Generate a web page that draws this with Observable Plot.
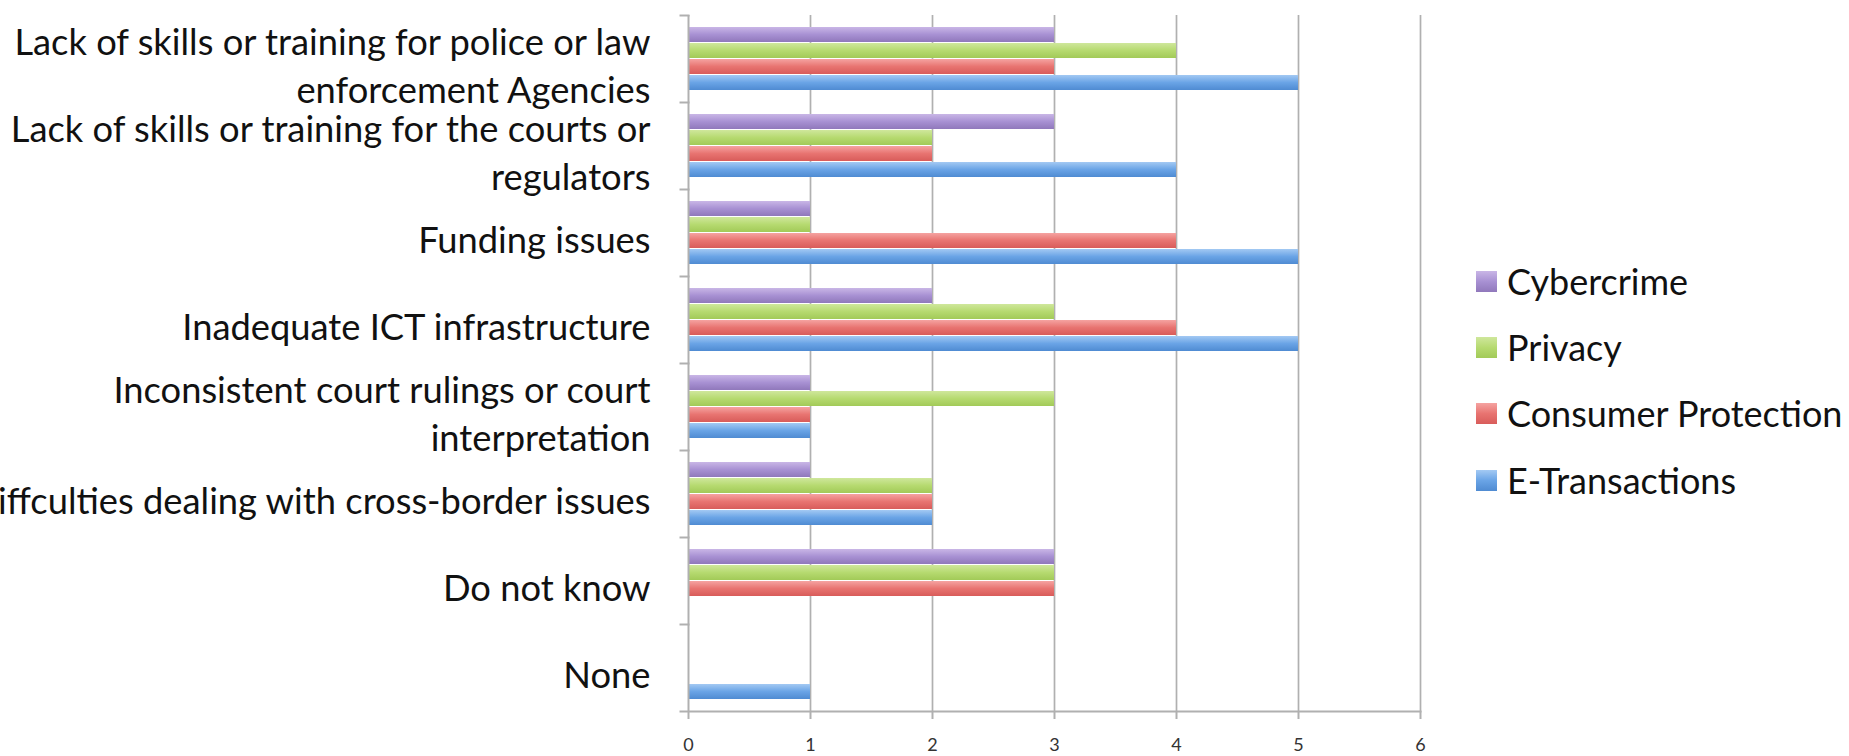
<!DOCTYPE html>
<html><head><meta charset="utf-8">
<script src="https://cdn.jsdelivr.net/npm/d3@7"></script>
<script src="https://cdn.jsdelivr.net/npm/@observablehq/plot@0.6"></script>
<style>
body{margin:0;background:#fff;}
#wrap{position:relative;width:1849px;height:756px;overflow:hidden;font-family:Lato,sans-serif;}
.item{position:absolute;display:flex;align-items:center;white-space:nowrap;font-size:36px;color:#111;height:40px;}
.sw{width:21px;height:21px;margin-right:10px;flex:none;}
</style></head><body><div id="wrap"></div>
<script>
const categories = [
  "Lack of skills or training for police or law enforcement Agencies",
  "Lack of skills or training for the courts or regulators",
  "Funding issues",
  "Inadequate ICT infrastructure",
  "Inconsistent court rulings or court interpretation",
  "Diffculties dealing with cross-border issues",
  "Do not know",
  "None"
];
const categoryLabels = [
  "Lack of skills or training for police or law\nenforcement Agencies",
  "Lack of skills or training for the courts or\nregulators",
  "Funding issues",
  "Inadequate ICT infrastructure",
  "Inconsistent court rulings or court\ninterpretation",
  "Diffculties dealing with cross-border issues",
  "Do not know",
  "None"
];
const series = ["Cybercrime", "Privacy", "Consumer Protection", "E-Transactions"];
const cybercrime = [3, 3, 1, 2, 1, 1, 3, 0];
const privacy    = [4, 2, 1, 3, 3, 2, 3, 0];
const consumer   = [3, 2, 4, 4, 1, 2, 3, 0];
const etrans     = [5, 4, 5, 5, 1, 2, 0, 1];
const xTicks = [0, 1, 2, 3, 4, 5, 6];
const colorTop    = ["#c9b6e6", "#cfe79c", "#f5a3a1", "#a3c9f3"];
const colorMid    = ["#a891d3", "#b6da70", "#e87471", "#6aa4e6"];
const colorBottom = ["#9078bb", "#a2ca58", "#d85c5a", "#4f8bd2"];

const valuesBySeries = [cybercrime, privacy, consumer, etrans];
const rows = [];
series.forEach((s, i) => categories.forEach((c, j) => rows.push({category: c, series: s, value: valuesBySeries[i][j]})));

const W = 1849, H = 756, ML = 688, MR = 429, MT = 14, MB = 45;
const gridColor = "#b0b0b0";

const chart = Plot.plot({
  width: W, height: H,
  marginLeft: ML, marginRight: MR, marginTop: MT, marginBottom: MB,
  style: {fontFamily: "Lato, sans-serif", background: "white", color: "#111"},
  x: {domain: [0, 6]},
  y: {domain: series, axis: null, paddingInner: 0.0625, paddingOuter: 0.75},
  fy: {domain: categories, padding: 0, axis: null},
  marks: [
    Plot.ruleX(xTicks.slice(1), {stroke: gridColor, strokeWidth: 1.7}),
    ...series.map((s, i) => Plot.barX(rows.filter(r => r.series === s && r.value > 0), {
      fy: "category", y: "series", x: "value", fill: `url(#grad${i})`
    })),
    Plot.ruleX([0], {stroke: gridColor, strokeWidth: 2}),
    Plot.frame({anchor: "top", stroke: gridColor, strokeWidth: 2, insetLeft: -8, insetRight: W - ML - MR}),
    Plot.frame({anchor: "bottom", facetAnchor: "bottom", stroke: gridColor, strokeWidth: 2, insetLeft: -8}),
    Plot.axisFy({anchor: "left", tickSize: 0, tickPadding: 38, fontSize: 36.3, lineHeight: 1.32, dy: 5,
      label: null, fill: "#111", tickFormat: d => categoryLabels[categories.indexOf(d)]}),
    Plot.axisX({ticks: xTicks, tickSize: 8, tickPadding: 19, fontSize: 18, label: null,
      stroke: gridColor, strokeWidth: 2, fill: "#333", tickFormat: d => String(d)})
  ]
});

const ns = "http://www.w3.org/2000/svg";
const defs = document.createElementNS(ns, "defs");
series.forEach((s, i) => {
  const g = document.createElementNS(ns, "linearGradient");
  g.setAttribute("id", `grad${i}`);
  g.setAttribute("x1", "0"); g.setAttribute("y1", "0"); g.setAttribute("x2", "0"); g.setAttribute("y2", "1");
  [[0, colorTop[i]], [0.5, colorMid[i]], [1, colorBottom[i]]].forEach(([o, c]) => {
    const st = document.createElementNS(ns, "stop");
    st.setAttribute("offset", o); st.setAttribute("stop-color", c);
    g.appendChild(st);
  });
  defs.appendChild(g);
});
chart.insertBefore(defs, chart.firstChild);

const wrap = document.getElementById("wrap");
wrap.appendChild(chart);

const legendTops = [261, 327, 393, 460];
series.forEach((s, i) => {
  const it = document.createElement("div");
  it.className = "item";
  it.style.left = "1476px";
  it.style.top = legendTops[i] + "px";
  const sw = document.createElement("div");
  sw.className = "sw";
  sw.style.background = `linear-gradient(${colorTop[i]}, ${colorMid[i]}, ${colorBottom[i]})`;
  const tx = document.createElement("span");
  tx.textContent = s;
  it.appendChild(sw); it.appendChild(tx);
  wrap.appendChild(it);
});
</script></body></html>
